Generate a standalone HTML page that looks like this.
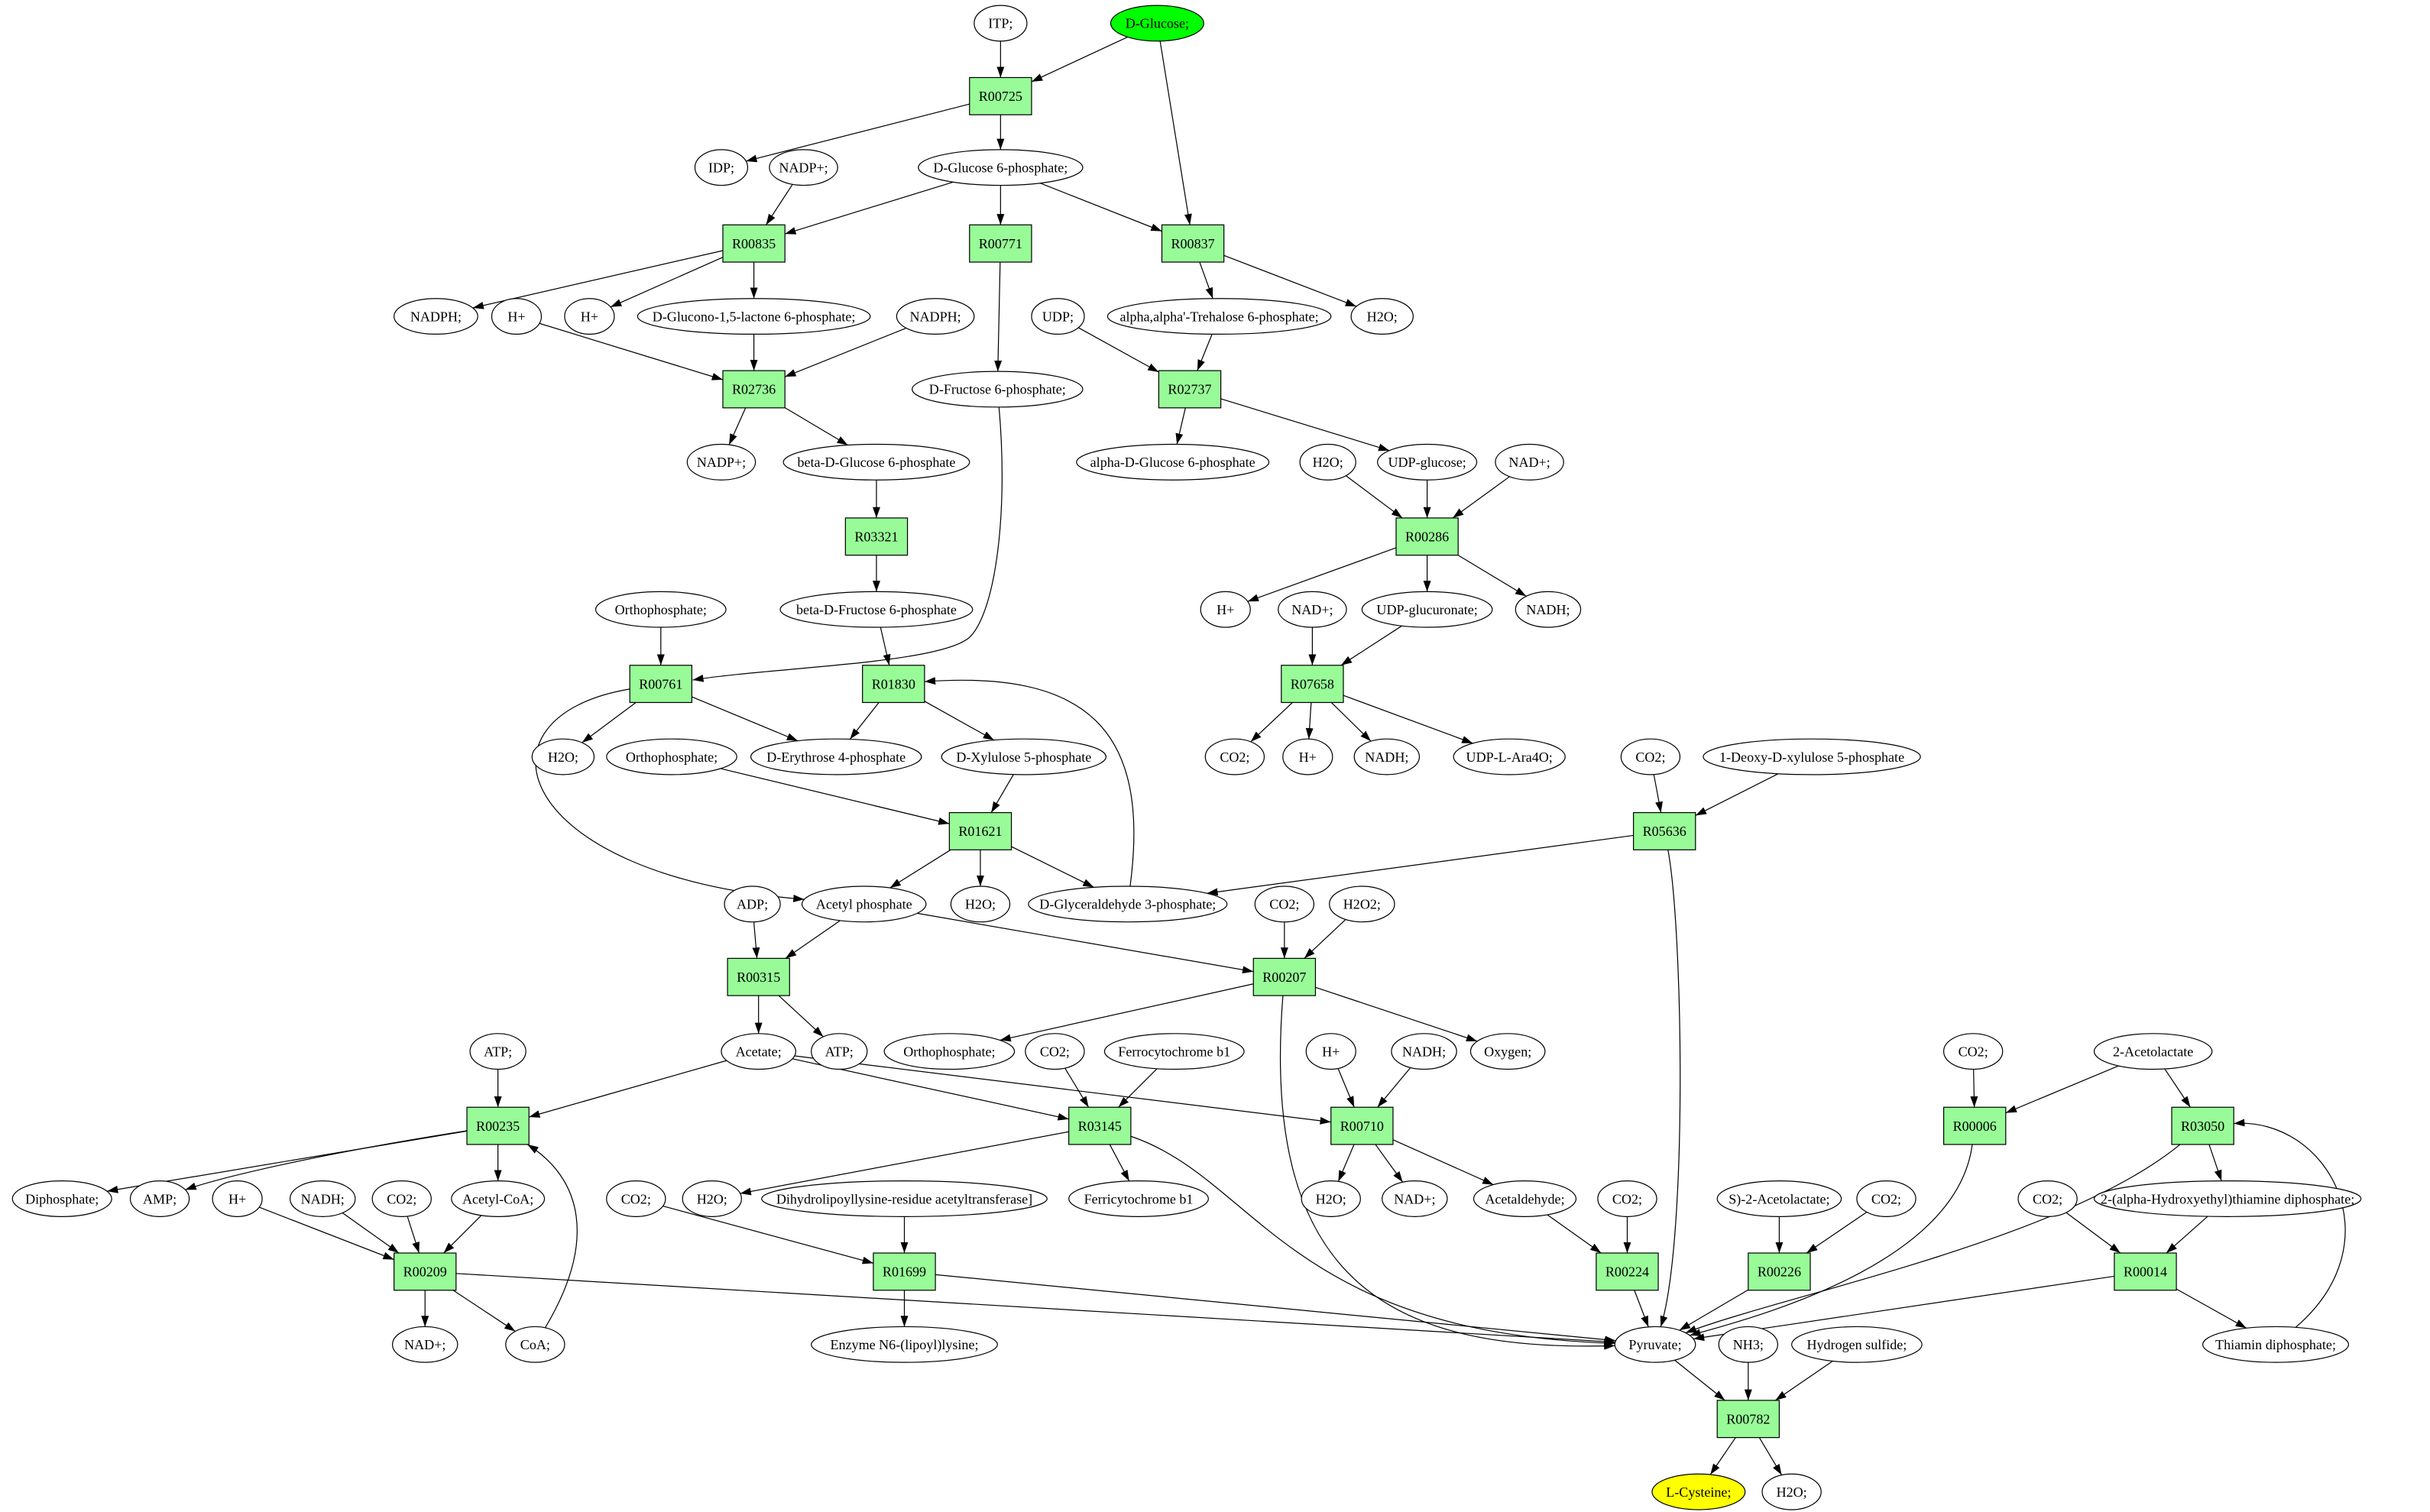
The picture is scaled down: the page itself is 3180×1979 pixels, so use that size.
<!DOCTYPE html>
<html><head><meta charset="utf-8">
<style>
html,body{margin:0;padding:0;background:#fff;}
svg{display:block;}
text{font-family:"Liberation Serif","DejaVu Serif",serif;font-size:8.9px;fill:#000;}
</style></head>
<body>
<svg id="g" xmlns="http://www.w3.org/2000/svg" width="3180" height="1979" viewBox="0 0 1566.5 975" preserveAspectRatio="none">
<defs>
<marker id="a" viewBox="0 0 10 7" markerWidth="7" markerHeight="5" refX="10" refY="3.5" orient="auto" markerUnits="userSpaceOnUse">
<path d="M0,0 L10,3.5 L0,7 z" fill="#000"/>
</marker>
</defs>
<g id="edges"></g>
<path d="M644,262.5 C650,330 642,392 626,410 S500,430 446.5,438.5" fill="none" stroke="#000" stroke-width="0.6" marker-end="url(#a)"/>
<g id="nodes"></g>
</svg>
<script>
var N={};
function E(id,x,y,rx,label,fill){N[id]={t:'e',x:x,y:y,rx:rx,ry:11.5,l:label,f:fill||'#fff'};}
function B(id,x,y){N[id]={t:'b',x:x,y:y,hw:20,hh:12,l:id,f:'#98fb98'};}
E('ITP',645,15,17,'ITP;');E('Glc',746,15,30,'D-Glucose;','#00ff00');
B('R00725',645,62);
E('IDP',465,108,17,'IDP;');E('NADPa',518,108,22,'NADP+;');E('G6P',645,108,53,'D-Glucose 6-phosphate;');
B('R00835',486,157);B('R00771',645,157);B('R00837',769,157);
E('NADPHa',281,204,27,'NADPH;');E('Ha',333,204,16,'H+');E('Hb',380,204,16,'H+');
E('Glucono',486,204,75,'D-Glucono-1,5-lactone 6-phosphate;');E('NADPHb',603,204,25,'NADPH;');
E('UDP',682,204,17,'UDP;');E('Tre',786,204,72,"alpha,alpha'-Trehalose 6-phosphate;");E('H2Oa',891,204,20,'H2O;');
B('R02736',486,251);E('F6P',643,251,55,'D-Fructose 6-phosphate;');B('R02737',767,251);
E('NADPb',465,298,22,'NADP+;');E('bG6P',565,298,60,'beta-D-Glucose 6-phosphate');
E('aG6P',756,298,62,'alpha-D-Glucose 6-phosphate');E('H2Ob',856,298,18,'H2O;');
E('UDPG',920,298,32,'UDP-glucose;');E('NADa',986,298,22,'NAD+;');
B('R03321',565,346);B('R00286',920,346);
E('Pia',426,393,42,'Orthophosphate;');E('bF6P',565,393,62,'beta-D-Fructose 6-phosphate');
E('Hc',790,393,16,'H+');E('NADb',846,393,22,'NAD+;');E('UDPGA',920,393,42,'UDP-glucuronate;');E('NADHa',998,393,21,'NADH;');
B('R00761',426,441);B('R01830',576,441);B('R07658',846,441);
E('H2Oc',363,488,20,'H2O;');E('Pib',433,488,42,'Orthophosphate;');E('E4P',539,488,55,'D-Erythrose 4-phosphate');
E('X5P',660,488,53,'D-Xylulose 5-phosphate');E('CO2a',796,488,19,'CO2;');E('Hd',843,488,16,'H+');
E('NADHb',894,488,21,'NADH;');E('Ara',973,488,36,'UDP-L-Ara4O;');E('CO2b',1064,488,19,'CO2;');
E('DXP',1168,488,70,'1-Deoxy-D-xylulose 5-phosphate');
B('R01621',632,536);B('R05636',1073,536);
E('ADP',485,583,18,'ADP;');E('AcP',557,583,40,'Acetyl phosphate');E('H2Od',632,583,19,'H2O;');
E('GAP',727,583,64,'D-Glyceraldehyde 3-phosphate;');E('CO2c',828,583,19,'CO2;');E('H2O2',878,583,21,'H2O2;');
B('R00315',489,630);B('R00207',828,630);
E('ATPa',321,678,18,'ATP;');E('Ac',489,678,24,'Acetate;');E('ATPb',541,678,18,'ATP;');
E('Pic',612,678,42,'Orthophosphate;');E('CO2d',680,678,19,'CO2;');E('Ferro',757,678,45,'Ferrocytochrome b1');
E('He',858,678,16,'H+');E('NADHc',918,678,21,'NADH;');E('O2',972,678,24,'Oxygen;');
E('CO2e',1272,678,19,'CO2;');E('AL',1388,678,38,'2-Acetolactate');
B('R00235',321,726);B('R03145',709,726);B('R00710',878,726);B('R00006',1273,726);B('R03050',1420,726);
E('PPi',40,773,32,'Diphosphate;');E('AMP',103,773,19,'AMP;');E('Hf',153,773,16,'H+');E('NADHd',208,773,21,'NADH;');
E('CO2f',259,773,19,'CO2;');E('AcCoA',321,773,30,'Acetyl-CoA;');E('CO2g',410,773,19,'CO2;');E('H2Oe',459,773,19,'H2O;');
E('Dihy',583,773,92,'Dihydrolipoyllysine-residue acetyltransferase]');E('Ferri',734,773,45,'Ferricytochrome b1');
E('H2Of',858,773,19,'H2O;');E('NADc',912,773,21,'NAD+;');E('Acald',983,773,33,'Acetaldehyde;');
E('CO2h',1049,773,19,'CO2;');E('SAL',1147,773,40,'S)-2-Acetolactate;');E('CO2i',1216,773,19,'CO2;');
E('CO2j',1320,773,19,'CO2;');E('HETPP',1436,773,86,'2-(alpha-Hydroxyethyl)thiamine diphosphate;');
B('R00209',274,820);B('R01699',583,820);B('R00224',1049,820);B('R00226',1147,820);B('R00014',1383,820);
E('NADd',274,867,21,'NAD+;');E('CoA',345,867,19,'CoA;');E('Enz',583,867,60,'Enzyme N6-(lipoyl)lysine;');
E('Pyr',1067,867,26,'Pyruvate;');E('NH3',1127,867,19,'NH3;');E('HS',1197,867,42,'Hydrogen sulfide;');
E('TPP',1467,867,47,'Thiamin diphosphate;');
B('R00782',1127,915);
E('Cys',1095,962,30,'L-Cysteine;','#ffff00');E('H2Og',1155,962,19,'H2O;');

var ED=[
['ITP','R00725'],['Glc','R00725'],['Glc','R00837'],['R00725','IDP'],['R00725','G6P'],
['NADPa','R00835'],['G6P','R00835'],['G6P','R00771'],['G6P','R00837'],
['R00835','NADPHa'],['R00835','Hb'],['R00835','Glucono'],['R00771','F6P'],
['R00837','Tre'],['R00837','H2Oa'],['Ha','R02736'],['Glucono','R02736'],['NADPHb','R02736'],
['UDP','R02737'],['Tre','R02737'],['R02736','NADPb'],['R02736','bG6P'],['R02737','aG6P'],['R02737','UDPG'],
['bG6P','R03321'],['R03321','bF6P'],['H2Ob','R00286'],['UDPG','R00286'],['NADa','R00286'],
['R00286','Hc'],['R00286','UDPGA'],['R00286','NADHa'],['Pia','R00761'],
['bF6P','R01830'],['NADb','R07658'],['UDPGA','R07658'],
['R07658','CO2a'],['R07658','Hd'],['R07658','NADHb'],['R07658','Ara'],
['R00761','H2Oc'],['R00761','E4P'],['R00761','AcP',[300,462],[330,565]],
['R01830','E4P'],['R01830','X5P'],['Pib','R01621'],['X5P','R01621'],
['R01621','AcP'],['R01621','H2Od'],['R01621','GAP'],
['GAP','R01830',[742,470],[700,432]],
['CO2b','R05636'],['DXP','R05636'],['R05636','GAP'],['R05636','Pyr',[1085,600],[1088,800]],
['ADP','R00315'],['AcP','R00315'],['AcP','R00207'],['CO2c','R00207'],['H2O2','R00207'],
['R00207','Pic'],['R00207','O2'],['R00207','Pyr',[812,830],[900,872]],
['R00315','Ac'],['R00315','ATPb'],['ATPa','R00235'],['Ac','R00235'],['Ac','R03145'],['Ac','R00710'],
['CO2d','R03145'],['Ferro','R03145'],['He','R00710'],['NADHc','R00710'],
['CO2e','R00006'],['AL','R00006'],['AL','R03050'],
['R00235','PPi'],['R00235','AMP',[200,745],[140,760]],['R00235','AcCoA'],
['R03145','H2Oe'],['R03145','Ferri'],['R03145','Pyr',[810,760],[830,860]],
['R00710','H2Of'],['R00710','NADc'],['R00710','Acald'],
['R03050','HETPP'],['R03050','Pyr',[1330,800],[1150,835]],['R00006','Pyr',[1262,810],[1150,845]],
['Hf','R00209'],['NADHd','R00209'],['CO2f','R00209'],['AcCoA','R00209'],
['CO2g','R01699'],['Dihy','R01699'],['Acald','R00224'],['CO2h','R00224'],
['SAL','R00226'],['CO2i','R00226'],['CO2j','R00014'],['HETPP','R00014'],
['R00209','NADd'],['R00209','CoA'],['R00209','Pyr'],['CoA','R00235',[385,800],[375,760]],
['R01699','Enz'],['R01699','Pyr'],['R00224','Pyr'],['R00226','Pyr'],['R00014','Pyr'],['R00014','TPP'],
['TPP','R03050',[1545,800],[1500,720]],
['Pyr','R00782'],['NH3','R00782'],['HS','R00782'],['R00782','Cys'],['R00782','H2Og']
];
function bd(n,tx,ty){var dx=tx-n.x,dy=ty-n.y;if(dx==0&&dy==0)return[n.x,n.y];var t;
if(n.t=='e'){t=1/Math.sqrt(dx*dx/(n.rx*n.rx)+dy*dy/(n.ry*n.ry));}
else{t=Math.min(dx?n.hw/Math.abs(dx):1e9,dy?n.hh/Math.abs(dy):1e9);}
return[n.x+dx*t,n.y+dy*t];}
var eg=document.getElementById('edges'),ng=document.getElementById('nodes'),s='';
ED.forEach(function(e){var a=N[e[0]],b=N[e[1]],d;
if(e[2]){var p=bd(a,e[2][0],e[2][1]),q=bd(b,e[3][0],e[3][1]);
d='M'+p[0]+','+p[1]+' C'+e[2][0]+','+e[2][1]+' '+e[3][0]+','+e[3][1]+' '+q[0]+','+q[1];}
else{var p=bd(a,b.x,b.y),q=bd(b,a.x,a.y);d='M'+p[0]+','+p[1]+' L'+q[0]+','+q[1];}
s+='<path d="'+d+'" fill="none" stroke="#000" stroke-width="0.6" marker-end="url(#a)"/>';});
eg.innerHTML=s;s='';
for(var k in N){var n=N[k];
if(n.t=='e')s+='<ellipse cx="'+n.x+'" cy="'+n.y+'" rx="'+n.rx+'" ry="'+n.ry+'" fill="'+n.f+'" stroke="#000" stroke-width="0.6"/>';
else s+='<rect x="'+(n.x-n.hw)+'" y="'+(n.y-n.hh)+'" width="'+2*n.hw+'" height="'+2*n.hh+'" fill="'+n.f+'" stroke="#000" stroke-width="0.6"/>';
s+='<text x="'+n.x+'" y="'+(n.y+3.1)+'" text-anchor="middle">'+n.l.replace(/&/g,'&amp;')+'</text>';}
ng.innerHTML=s;
</script>
</body></html>
